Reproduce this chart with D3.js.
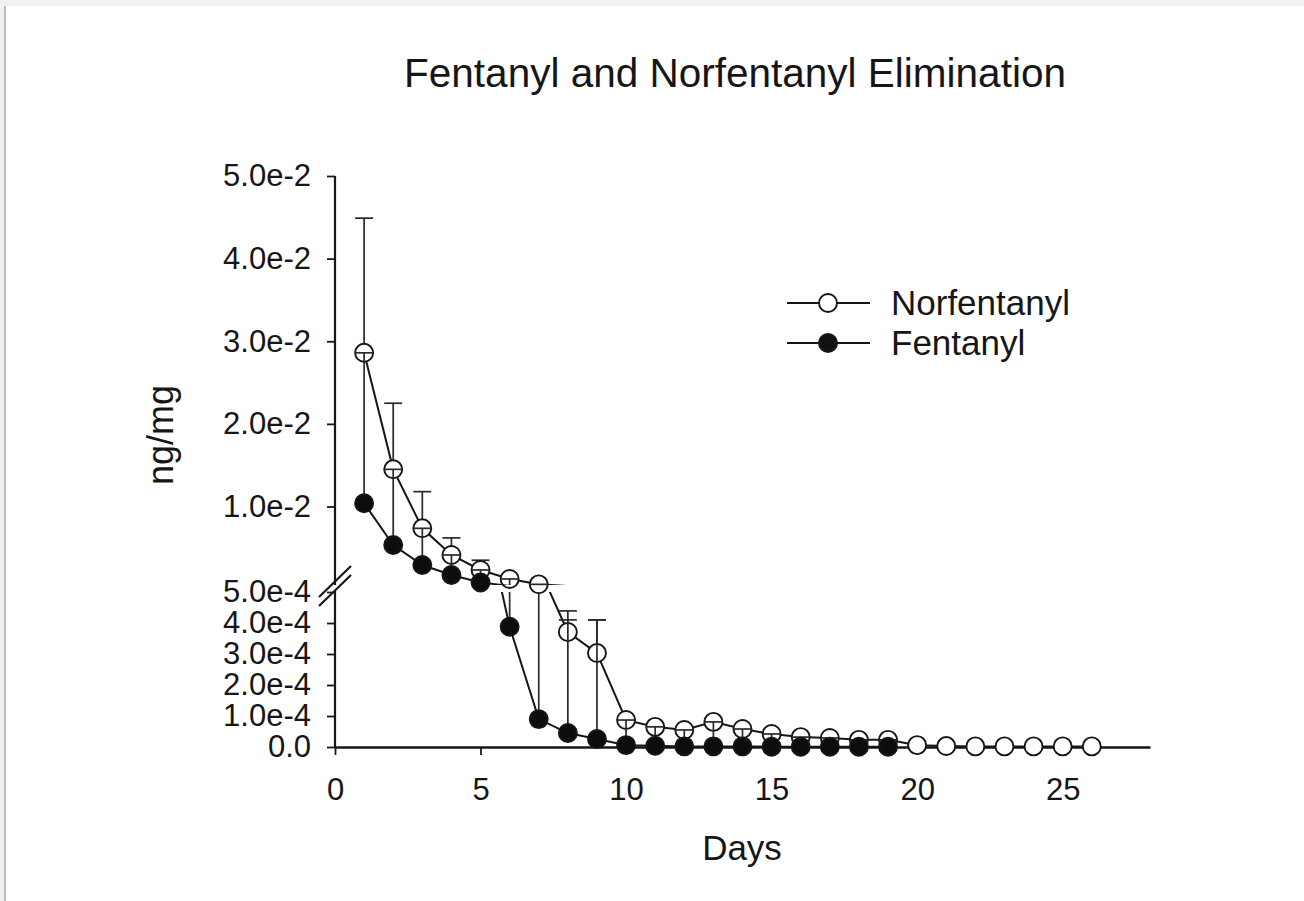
<!DOCTYPE html>
<html>
<head>
<meta charset="utf-8">
<script src="https://cdn.jsdelivr.net/npm/d3@7"></script>
<style>
  body { margin: 0; background: #f1f1f1; }
  svg { display: block; font-family: "Liberation Sans", Arial, sans-serif; }
</style>
</head>
<body>
<div id="chart"></div>
<script>
// Data

let norDays = [1, 2, 3, 4, 5, 6, 7, 8, 9, 10, 11, 12, 13, 14, 15, 16, 17, 18, 19, 20, 21, 22, 23, 24, 25, 26]
let norMean = [0.0286, 0.0145, 0.00736, 0.00413, 0.00232, 0.00123, 0.00058, 0.000371, 0.000303, 0.000087,
  0.000065, 0.000055, 0.000081, 0.000058, 0.000042, 0.000032, 0.000029, 0.000023, 0.000023,
  0.000006, 0.000003, 0.000002, 0.000002, 0.000002, 0.000002, 0.000002]
let norCap = [0.0449, 0.0225, 0.0118, 0.0062, 0.0035, null, null, 0.000439, 0.00041, null,
  null, null, null, null, null, null, null, null, null,
  null, null, null, null, null, null, null]

let fenDays = [1, 2, 3, 4, 5, 6, 7, 8, 9, 10, 11, 12, 13, 14, 15, 16, 17, 18, 19]
let fenMean = [0.0104, 0.00534, 0.00292, 0.00171, 0.00081, 0.000388, 0.00009, 0.000045, 0.000026, 0.000006,
  0.000004, 0.000002, 0.000002, 0.000002, 0.000001, 0.000001, 0.000001, 0.000001, 0.000001]
let fenCap = [0.0286, 0.0145, 0.00736, 0.00413, 0.00232, 0.00123, 0.00058, 0.00041, 0.00041, 0.000087,
  0.000065, 0.000055, 0.000081, 0.000058, 0.000042, 0.000032, 0.000029, 0.000023, 0.000023]

let xTicks = [0, 5, 10, 15, 20, 25]
let upperTicks = [0.01, 0.02, 0.03, 0.04, 0.05]
let lowerTicks = [0, 0.0001, 0.0002, 0.0003, 0.0004, 0.0005]

let legendItems = [
  { label: 'Norfentanyl', fill: 'white' },
  { label: 'Fentanyl', fill: '#111' }
]

;(function(){

  let width = 1304
  let height = 901
  let ink = '#161616'
  let r = 9

  let svg = d3.select('#chart')
    .append('svg')
    .attr('width', width)
    .attr('height', height)

  // page sheet
  svg.append('rect')
    .attr('x', 5).attr('y', 6)
    .attr('width', width).attr('height', height)
    .attr('fill', 'white')
  svg.append('line')
    .attr('x1', 5).attr('x2', 5).attr('y1', 6).attr('y2', height)
    .attr('stroke', '#a8a8a8').attr('stroke-width', 1.5)

  // Scales (broken y axis)

  let xScale = d3.scaleLinear().domain([0, 28]).range([335, 1150])
  let yUpper = d3.scaleLinear().domain([0.0005, 0.05]).range([585, 176])
  let yLower = d3.scaleLinear().domain([0, 0.0005]).range([747, 592])

  function yOf(v) {
    return v >= 0.0005 ? yUpper(v) : yLower(v)
  }

  let defs = svg.append('defs')
  defs.append('clipPath').attr('id', 'clip-upper')
    .append('rect').attr('x', 0).attr('y', 0).attr('width', width).attr('height', 585)
  defs.append('clipPath').attr('id', 'clip-lower')
    .append('rect').attr('x', 0).attr('y', 592).attr('width', width).attr('height', height - 592)

  let norData = norDays.map((d, i) => ({ day: d, v: norMean[i], cap: norCap[i] }))
  let fenData = fenDays.map((d, i) => ({ day: d, v: fenMean[i], cap: fenCap[i] }))

  let fmt = d => d === 0 ? '0.0' : d.toExponential(1)

  // Axes

  let xAxis = d3.axisBottom(xScale)
    .tickValues(xTicks)
    .tickSize(8)
    .tickSizeOuter(0)
    .tickPadding(23)
    .tickFormat(d3.format('d'))
  let gx = svg.append('g')
    .attr('transform', 'translate(0,747)')
    .call(xAxis)
  gx.select('.domain').attr('stroke', ink).attr('stroke-width', 2.6)

  let gyUp = svg.append('g')
    .attr('transform', 'translate(335,0)')
    .call(d3.axisLeft(yUpper).tickValues(upperTicks).tickSize(8).tickPadding(16).tickFormat(fmt))
  let gyLow = svg.append('g')
    .attr('transform', 'translate(335,0)')
    .call(d3.axisLeft(yLower).tickValues(lowerTicks).tickSize(8).tickPadding(16).tickFormat(fmt))

  gyUp.select('.domain').remove()
  gyLow.select('.domain').remove()

  svg.selectAll('.tick line').attr('stroke', ink).attr('stroke-width', 1.8)
  svg.selectAll('.tick text')
    .attr('fill', ink)
    .style('font-size', '31px')
    .style('font-family', '"Liberation Sans", Arial, sans-serif')

  svg.append('line')
    .attr('x1', 335).attr('x2', 335)
    .attr('y1', yUpper(0.05)).attr('y2', yLower(0))
    .attr('stroke', ink).attr('stroke-width', 2.2)

  // axis break marks
  let brk = svg.append('g')
  brk.append('rect')
    .attr('x', 328).attr('y', 585).attr('width', 14).attr('height', 6)
    .attr('fill', 'white')
  ;[0, 9].forEach(off => {
    brk.append('line')
      .attr('x1', 319).attr('y1', 597 + off)
      .attr('x2', 351).attr('y2', 566 + off)
      .attr('stroke', ink).attr('stroke-width', 2.2)
  })

  // Series

  let line = d3.line().x(d => xScale(d.day))

  function drawSeries(data, fill) {
    ;[['clip-upper', yUpper], ['clip-lower', yLower]].forEach(([clip, yScale]) => {
      let g = svg.append('g').attr('clip-path', `url(#${clip})`)
      g.append('path')
        .datum(data)
        .attr('d', line.y(d => yScale(d.v)))
        .attr('fill', 'none')
        .attr('stroke', ink)
        .attr('stroke-width', 2)
      g.selectAll('line.err')
        .data(data.filter(d => d.cap !== null))
        .enter().append('line')
        .attr('class', 'err')
        .attr('x1', d => xScale(d.day))
        .attr('x2', d => xScale(d.day))
        .attr('y1', d => yScale(d.v))
        .attr('y2', d => yScale(d.cap))
        .attr('stroke', '#2a2a2a')
        .attr('stroke-width', 1.7)
    })

    svg.append('g').selectAll('line')
      .data(data.filter(d => d.cap !== null))
      .enter().append('line')
      .attr('x1', d => xScale(d.day) - 9)
      .attr('x2', d => xScale(d.day) + 9)
      .attr('y1', d => yOf(d.cap))
      .attr('y2', d => yOf(d.cap))
      .attr('stroke', '#2a2a2a')
      .attr('stroke-width', 1.7)

    svg.append('g').selectAll('circle')
      .data(data)
      .enter().append('circle')
      .attr('cx', d => xScale(d.day))
      .attr('cy', d => yOf(d.v))
      .attr('r', r)
      .attr('fill', fill)
      .attr('stroke', ink)
      .attr('stroke-width', 1.9)
  }

  drawSeries(norData, 'white')
  drawSeries(fenData, '#0d0d0d')

  // Legend

  let legend = svg.append('g')
  legendItems.forEach((item, i) => {
    let y = 303 + i * 40
    legend.append('line')
      .attr('x1', 787).attr('x2', 870)
      .attr('y1', y).attr('y2', y)
      .attr('stroke', ink).attr('stroke-width', 2)
    legend.append('circle')
      .attr('cx', 828).attr('cy', y).attr('r', r)
      .attr('fill', item.fill)
      .attr('stroke', ink).attr('stroke-width', 1.9)
    legend.append('text')
      .attr('x', 891).attr('y', y)
      .attr('dy', '0.35em')
      .attr('fill', ink)
      .style('font-size', '35px')
      .text(item.label)
  })

  // Titles

  svg.append('text')
    .attr('x', 735).attr('y', 87)
    .attr('text-anchor', 'middle')
    .attr('fill', ink)
    .style('font-size', '40.5px')
    .text('Fentanyl and Norfentanyl Elimination')

  svg.append('text')
    .attr('x', 742).attr('y', 860)
    .attr('text-anchor', 'middle')
    .attr('fill', ink)
    .style('font-size', '35px')
    .text('Days')

  svg.append('text')
    .attr('transform', 'translate(173,435) rotate(-90)')
    .attr('text-anchor', 'middle')
    .attr('fill', ink)
    .style('font-size', '36px')
    .text('ng/mg')

})()
</script>
</body>
</html>
